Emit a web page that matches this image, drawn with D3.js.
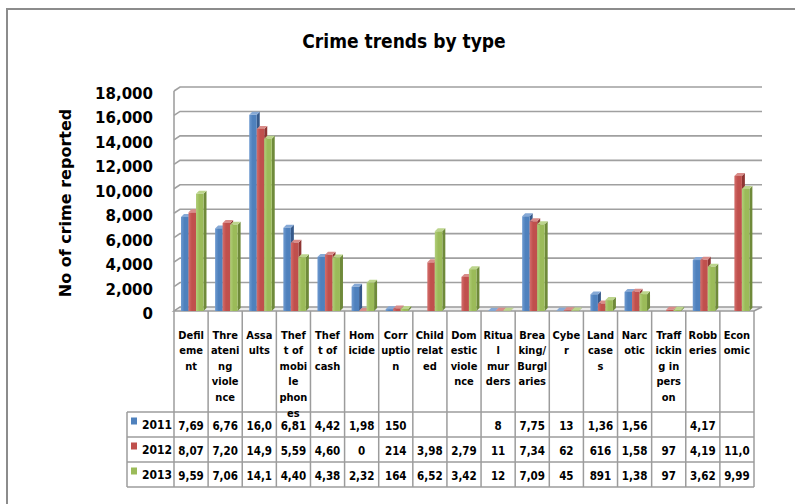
<!DOCTYPE html>
<html>
<head>
<meta charset="utf-8">
<script src="https://cdn.jsdelivr.net/npm/d3@7/dist/d3.min.js"></script>
<style>
  html, body { margin: 0; padding: 0; background: #fff; }
  svg { display: block; }
  .cond { font-family: 'DejaVu Sans Condensed', 'Liberation Sans Narrow', 'DejaVu Sans', sans-serif; font-stretch: condensed; font-weight: bold; }
  .wide { font-family: 'DejaVu Sans', sans-serif; font-weight: bold; }
</style>
</head>
<body>
<svg id="chart" width="795" height="504"></svg>
<script>
// ---------------- data ----------------
const title = "Crime trends by type";
const yAxisTitle = "No of crime reported";
const categories = ["Defilement","Threatening violence","Assaults","Theft of mobile phones","Theft of cash","Homicide","Corruption","Child related","Domestic violence","Ritual murders","Breaking/Burglaries","Cyber","Land cases","Narcotic","Trafficking in person","Robberies","Economic"];
const categoryLines = [["Defil","eme","nt"],["Thre","ateni","ng","viole","nce"],["Assa","ults"],["Thef","t of","mobi","le","phon","es"],["Thef","t of","cash"],["Hom","icide"],["Corr","uptio","n"],["Child","relat","ed"],["Dom","estic","viole","nce"],["Ritua","l","mur","ders"],["Brea","king/","Burgl","aries"],["Cybe","r"],["Land","case","s"],["Narc","otic"],["Traff","ickin","g in","pers","on"],["Robb","eries"],["Econ","omic"]];
const years = ["2011","2012","2013"];
const values2011 = [7690, 6760, 16050, 6810, 4420, 1980, 150, null, null, 8, 7750, 13, 1360, 1560, null, 4170, null];
const values2012 = [8070, 7200, 14900, 5590, 4600, 0, 214, 3980, 2790, 11, 7340, 62, 616, 1580, 97, 4190, 11050];
const values2013 = [9590, 7060, 14100, 4400, 4380, 2320, 164, 6520, 3420, 12, 7090, 45, 891, 1380, 97, 3620, 9990];
const yTicks = [0, 2000, 4000, 6000, 8000, 10000, 12000, 14000, 16000, 18000];
const seriesColors = ["#4F81BD", "#C0504D", "#9BBB59"];
const seriesSide = ["#36598A", "#8E3533", "#6F8A3A"];
const seriesTop = ["#86A9D6", "#D98C89", "#BCD58C"];
const seriesLight = ["#6E9AD0", "#D46E6B", "#B2CF7A"];

const series = [values2011, values2012, values2013];

// ---------------- layout ----------------
const svg = d3.select("#chart");
const plotLeft = 174, plotRight = 754;
const floorY = 311, yTop = 91;
const wallDx = 6, wallDy = -4;   // depth of walls / floor
const barDx = 3, barDy = -3;     // depth of each column
const tableBottom = 487;
const headerBottom = 412;
const rowH = 25;
const legendLeft = 127;

const x = d3.scaleBand().domain(d3.range(categories.length)).range([plotLeft, plotRight]).padding(0);
const xs = d3.scaleBand().domain(years).range([7, 29.5]).padding(0);
const y = d3.scaleLinear().domain([0, 18000]).range([floorY, yTop]);

// gradients
const defs = svg.append("defs");
seriesColors.forEach((c, i) => {
  const g = defs.append("linearGradient").attr("id", "g" + i).attr("x1", 0).attr("x2", 1).attr("y1", 0).attr("y2", 0);
  g.append("stop").attr("offset", "0%").attr("stop-color", seriesLight[i]);
  g.append("stop").attr("offset", "45%").attr("stop-color", c);
  g.append("stop").attr("offset", "100%").attr("stop-color", c);
});

// outer chart border
svg.append("rect").attr("x", 7).attr("y", 9).attr("width", 820).attr("height", 520)
  .attr("fill", "none").attr("stroke", "#8c8c8c").attr("stroke-width", 2);

// title
svg.append("text").attr("class", "cond").attr("x", 404).attr("y", 48)
  .attr("text-anchor", "middle").attr("font-size", 19).attr("fill", "#000").text(title);

// y axis title
svg.append("text").attr("class", "wide")
  .attr("transform", "translate(71,203) rotate(-90)")
  .attr("text-anchor", "middle").attr("font-size", 16).attr("fill", "#000").text(yAxisTitle);

// floor
const floorPts = [[plotLeft, floorY], [plotRight, floorY], [plotRight + wallDx + 2, floorY + wallDy], [plotLeft + wallDx, floorY + wallDy]];
svg.append("polygon").attr("points", floorPts.map(p => p.join(",")).join(" "))
  .attr("fill", "#ececec").attr("stroke", "#9a9a9a").attr("stroke-width", 1.5);

// gridlines (back wall) + side-wall diagonals
const grid = svg.append("g");
yTicks.forEach(t => {
  const yf = y(t), yb = y(t) + wallDy;
  if (t > 0) {
    grid.append("path")
      .attr("d", `M${plotLeft},${yf} L${plotLeft + wallDx},${yb} L${plotRight + wallDx + 2},${yb}`)
      .attr("fill", "none").attr("stroke", "#a0a0a0").attr("stroke-width", 1.6);
  }
});
// left wall front edge
grid.append("line").attr("x1", plotLeft).attr("x2", plotLeft).attr("y1", y(18000)).attr("y2", floorY)
  .attr("stroke", "#a0a0a0").attr("stroke-width", 1.6);

// y tick labels
svg.append("g").selectAll("text").data(yTicks).join("text")
  .attr("class", "wide").attr("x", 153).attr("y", d => y(d) + 3)
  .attr("dominant-baseline", "central").attr("text-anchor", "end")
  .attr("font-size", 15).attr("fill", "#000")
  .text(d => d3.format(",")(d));

// bars
const bars = svg.append("g");
categories.forEach((cat, ci) => {
  series.forEach((vals, si) => {
    const v = vals[ci];
    if (v === null || v === undefined) return;
    const x0 = x(ci) + xs(years[si]);
    const w = xs.bandwidth();
    const yt = y(v), yb = y(0);
    // side face
    bars.append("polygon")
      .attr("points", [[x0 + w, yb], [x0 + w + barDx, yb + barDy], [x0 + w + barDx, yt + barDy], [x0 + w, yt]].map(p => p.join(",")).join(" "))
      .attr("fill", seriesSide[si]);
    // top face
    bars.append("polygon")
      .attr("points", [[x0, yt], [x0 + barDx, yt + barDy], [x0 + w + barDx, yt + barDy], [x0 + w, yt]].map(p => p.join(",")).join(" "))
      .attr("fill", seriesTop[si]);
    // front face
    bars.append("rect").attr("x", x0).attr("y", yt).attr("width", w).attr("height", Math.max(0, yb - yt))
      .attr("fill", `url(#g${si})`);
  });
});

// ---------------- data table ----------------
const tbl = svg.append("g");
const lineColor = "#9c9c9c";
// vertical lines at category boundaries
const bounds = d3.range(categories.length + 1).map(i => i < categories.length ? x(i) : plotRight);
bounds.forEach(bx => {
  tbl.append("line").attr("x1", bx).attr("x2", bx).attr("y1", floorY).attr("y2", tableBottom)
    .attr("stroke", lineColor).attr("stroke-width", 1.5);
});
// legend column left border
tbl.append("line").attr("x1", legendLeft).attr("x2", legendLeft).attr("y1", headerBottom).attr("y2", tableBottom)
  .attr("stroke", lineColor).attr("stroke-width", 1.5);
// horizontal lines
[headerBottom, headerBottom + rowH, headerBottom + 2 * rowH, tableBottom].forEach(hy => {
  tbl.append("line").attr("x1", legendLeft).attr("x2", plotRight).attr("y1", hy).attr("y2", hy)
    .attr("stroke", lineColor).attr("stroke-width", 1.5);
});

// header labels
categoryLines.forEach((lines, ci) => {
  const cx = x(ci) + x.bandwidth() / 2;
  const t = tbl.append("text").attr("class", "cond").attr("font-size", 11).attr("fill", "#000")
    .attr("text-anchor", "middle");
  lines.forEach((ln, li) => {
    t.append("tspan").attr("x", cx).attr("y", 338.5 + li * 15.6).text(ln);
  });
});

// legend + values
const rowCenters = years.map((yr, i) => headerBottom + rowH * i + rowH / 2);
years.forEach((yr, si) => {
  tbl.append("rect").attr("x", 131).attr("y", rowCenters[si] - 7).attr("width", 6).attr("height", 7)
    .attr("fill", seriesColors[si]);
  tbl.append("text").attr("class", "cond").attr("font-size", 12).attr("fill", "#000")
    .attr("x", 142).attr("y", rowCenters[si]).attr("dominant-baseline", "central").text(yr);
  series[si].forEach((v, ci) => {
    if (v === null || v === undefined) return;
    tbl.append("text").attr("class", "cond").attr("font-size", 11.5).attr("fill", "#000")
      .attr("x", x(ci) + x.bandwidth() / 2).attr("y", rowCenters[si] + 1)
      .attr("text-anchor", "middle").attr("dominant-baseline", "central")
      .text(d3.format(",")(v).slice(0, 4));
  });
});
</script>
</body>
</html>
